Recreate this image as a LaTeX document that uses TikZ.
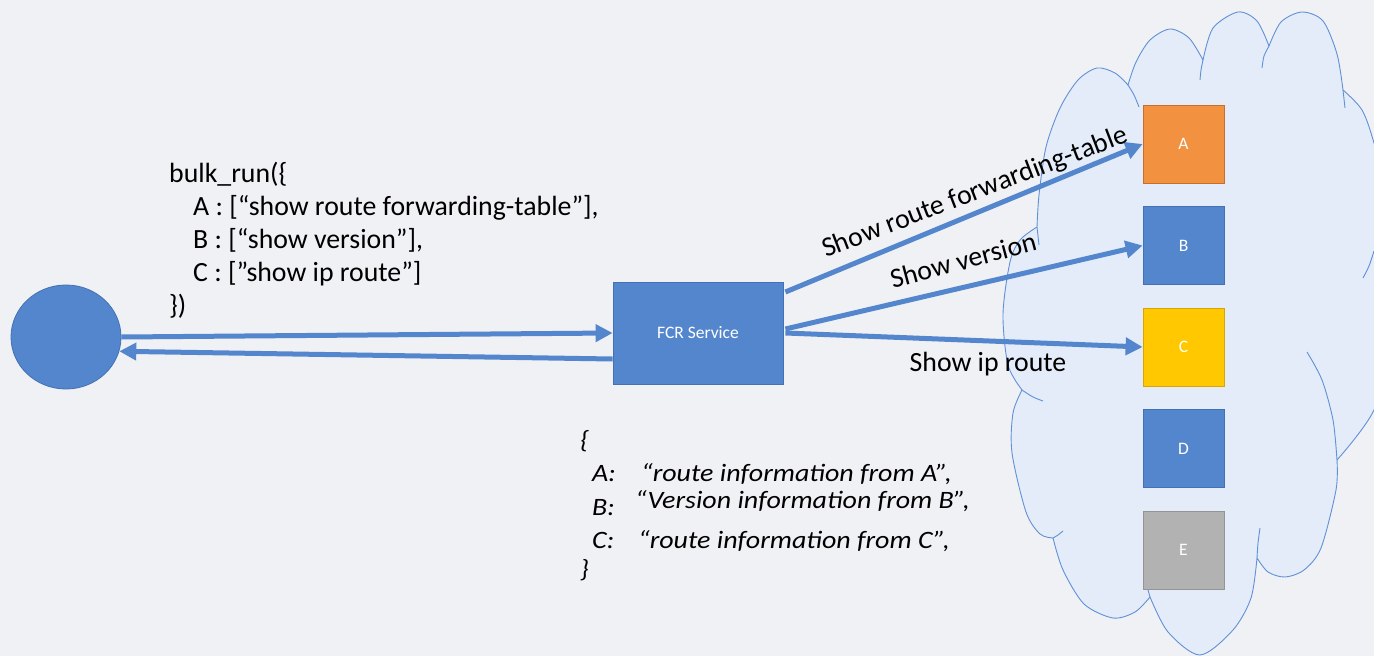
\documentclass[tikz,border=0pt]{standalone}
\usepackage{fontspec}
\setmainfont{Carlito}
\usetikzlibrary{arrows.meta,shapes.geometric}

\definecolor{bgc}{RGB}{240,241,244}
\definecolor{svcblue}{RGB}{84,134,206}
\definecolor{svcedge}{RGB}{66,113,180}
\definecolor{cloudfill}{RGB}{227,236,248}
\definecolor{cloudline}{RGB}{96,145,214}
\definecolor{orgfill}{RGB}{242,145,64}
\definecolor{orgedge}{RGB}{200,110,45}
\definecolor{goldfill}{RGB}{255,200,0}
\definecolor{goldedge}{RGB}{215,165,0}
\definecolor{greyfill}{RGB}{178,178,178}
\definecolor{greyedge}{RGB}{148,148,148}

\newcommand\bigtext{\fontsize{27.8}{33}\selectfont}
\newcommand\replytext{\fontsize{25}{30}\selectfont\itshape}
\newcommand\smalltext{\fontsize{17.5}{21}\selectfont}
\newcommand\widen[1]{\scalebox{1.12}[1]{#1}}

\tikzset{
  devbox/.style={rectangle, minimum width=81pt, minimum height=78pt, inner sep=0pt,
    line width=0.8pt, text=white, font=\smalltext},
  flow/.style={draw=svcblue, line width=5pt, -{Triangle[length=17pt,width=17pt]}},
  cloudedge/.style={draw=cloudline, line width=0.9pt},
  codeline/.style={anchor=base west, inner sep=0pt, font=\bigtext},
  replyline/.style={anchor=base west, inner sep=0pt, font=\replytext},
  cmdlabel/.style={inner sep=0pt, font=\bigtext}
}

\begin{document}
\begin{tikzpicture}[x=1pt, y=-1pt]
  % canvas
  \fill[bgc] (0,0) rectangle (1374,656);
  \useasboundingbox (0,0) rectangle (1374,656);
  \clip (0,0) rectangle (1374,656);

  % network cloud
  \path[fill=cloudfill, cloudedge, line join=round]
    plot[smooth] coordinates {(1037,227) (1039,195) (1046,147) (1060,108) (1078,80) (1097,68) (1115,73) (1128,85)}
    -- plot[smooth] coordinates {(1128,85) (1136,62) (1150,40) (1170,29) (1189,38) (1203,60)}
    -- plot[smooth] coordinates {(1203,60) (1213,28) (1238,12) (1257,21) (1269,46)}
    -- plot[smooth] coordinates {(1269,46) (1281,22) (1302,12) (1323,21) (1337,54) (1343,90)}
    -- plot[smooth] coordinates {(1343,90) (1362,110) (1374,143) (1388,200) (1384,262)}
    -- plot[smooth] coordinates {(1384,262) (1398,330) (1374,410) (1337,460)}
    -- plot[smooth] coordinates {(1337,460) (1336,490) (1321,548) (1304,570) (1285,577) (1268,572) (1257,558)}
    -- plot[smooth] coordinates {(1257,558) (1251,598) (1233,630) (1200,655) (1168,632) (1150,597)}
    -- plot[smooth] coordinates {(1150,597) (1135,612) (1113,618) (1084,604) (1063,570) (1053,538)}
    -- plot[smooth] coordinates {(1053,538) (1040,534) (1026,512) (1012,453) (1013,413) (1022,390)}
    -- plot[smooth] coordinates {(1022,390) (1008,365) (1003,314) (1010,262) (1020,240) (1037,227)}
    -- cycle;
  % inner arcs of the cloud
  \draw[cloudedge] plot[smooth] coordinates {(1037,227) (1038,236) (1039,245)};
  \draw[cloudedge] plot[smooth] coordinates {(1128,85) (1134,95) (1139,107)};
  \draw[cloudedge] plot[smooth] coordinates {(1200,80) (1201,70) (1203,60)};
  \draw[cloudedge] plot[smooth] coordinates {(1262,68) (1264,56) (1269,46)};
  \draw[cloudedge] plot[smooth] coordinates {(1343,90) (1344,99) (1345,108)};
  \draw[cloudedge] plot[smooth] coordinates {(1374,251) (1369,266) (1363,278)};
  \draw[cloudedge] plot[smooth] coordinates {(1307,352) (1322,380) (1333,420) (1337,460)};
  \draw[cloudedge] plot[smooth] coordinates {(1260,528) (1258,543) (1257,558)};
  \draw[cloudedge] (1148,590) -- (1150,597);
  \draw[cloudedge] plot[smooth] coordinates {(1053,538) (1058,535) (1063,531)};
  \draw[cloudedge] plot[smooth] coordinates {(1022,390) (1033,397) (1043,401)};

  % devices
  \node[devbox, fill=orgfill, draw=orgedge] (A) at (1183.5,144) {A};
  \node[devbox, fill=svcblue, draw=svcedge] (B) at (1183.5,245.5) {B};
  \node[devbox, fill=goldfill, draw=goldedge] (C) at (1183.5,347) {C};
  \node[devbox, fill=svcblue, draw=svcedge] (D) at (1183.5,448.5) {D};
  \node[devbox, fill=greyfill, draw=greyedge] (E) at (1183.5,550) {E};

  % client and service
  \node[ellipse, minimum width=110pt, minimum height=104pt, inner sep=0pt,
        fill=svcblue, draw=svcedge, line width=0.8pt] (client) at (66,337) {};
  \node[rectangle, minimum width=170pt, minimum height=102pt, inner sep=0pt,
        fill=svcblue, draw=svcedge, line width=0.8pt, text=white, font=\smalltext]
        (fcr) at (698,333) {FCR Service};

  % request and reply
  \draw[flow] (client.east) -- (fcr.west);
  \draw[flow] ([yshift=-26pt]fcr.west) -- (client.-15);

  % fan-out to devices
  \draw[flow] ([xshift=2pt,yshift=41pt]fcr.east) -- (A.west);
  \draw[flow] ([xshift=2pt,yshift=4pt]fcr.east) -- (B.west);
  \draw[flow] ([xshift=2pt]fcr.east) -- (C.west);

  \node[cmdlabel, rotate=21] (lA) at (975,193) {Show route forwarding-table};
  \node[cmdlabel, rotate=15] (lB) at (963,260) {Show version};
  \node[cmdlabel] (lC) at (988,364) {Show ip route};

  % request body
  \node[codeline] (q0) at (169,182) {bulk\_run(\{};
  \node[codeline] (q1) at (193,215.2) {A : [“show route forwarding-table”],};
  \node[codeline] (q2) at (193,248.4) {B : [“show version”],};
  \node[codeline] (q3) at (193,281.6) {C : [”show ip route”]};
  \node[codeline] (q4) at (169,314.8) {\})};

  % reply body
  \node[replyline] (r0) at (580,448) {\widen{\{}};
  \node[replyline] (r1k) at (592,481) {\widen{A:}};
  \node[replyline] (r1v) at (641,481) {\widen{“route information from A”,}};
  \node[replyline] (r2k) at (592,515) {\widen{B:}};
  \node[replyline] (r2v) at (635,508) {\widen{“Version information from B”,}};
  \node[replyline] (r3k) at (592,548) {\widen{C:}};
  \node[replyline] (r3v) at (638,548) {\widen{“route information from C”,}};
  \node[replyline] (r4) at (580,577) {\widen{\}}};
\end{tikzpicture}
\end{document}
